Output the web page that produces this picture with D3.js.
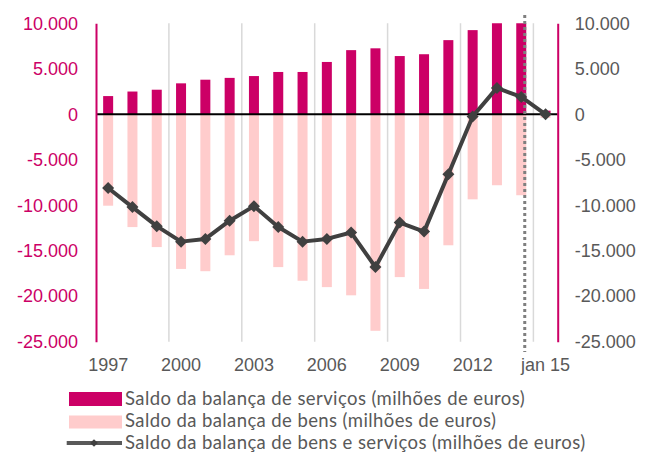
<!DOCTYPE html>
<html>
<head>
<meta charset="utf-8">
<script src="https://cdn.jsdelivr.net/npm/d3@7"></script>
<style>
  body { margin: 0; background: #fff; }
  svg { display: block; font-family: Lato, "Open Sans", sans-serif; }
</style>
</head>
<body>
<div id="chart"></div>
<script>
// categories (years + last month)
const categories = ["1997","1998","1999","2000","2001","2002","2003","2004","2005","2006",
  "2007","2008","2009","2010","2011","2012","2013","2014","jan 15"];
const xTickLabels = ["1997","2000","2003","2006","2009","2012","jan 15"];

// values in millions of euros
const servicos = [2000,2500,2700,3400,3800,4000,4200,4650,4650,5750,
  7050,7250,6400,6600,8150,9250,10700,10800,400];
const bens = [-10050,-12400,-14600,-17000,-17250,-15500,-13950,-16800,-18300,-19000,
  -19900,-23800,-17900,-19200,-14400,-9350,-7800,-8900,-400];
const bensServicos = [-8100,-10200,-12300,-14000,-13700,-11700,-10100,-12400,-14000,-13700,
  -13000,-16800,-11900,-12900,-6600,-250,2900,1900,0];

const yTicks = [-25000,-20000,-15000,-10000,-5000,0,5000,10000];
const legendLabels = [
  "Saldo da balança de serviços (milhões de euros)",
  "Saldo da balança de bens (milhões de euros)",
  "Saldo da balança de bens e serviços (milhões de euros)"
];

const W = 646, H = 453;
const m = { left: 96, right: 557.7, top: 23.3, bottom: 341.7 };
const magenta = "#cc0066", pink = "#ffcccc", lineCol = "#404040", textCol = "#595959";

const svg = d3.select("#chart").append("svg").attr("width", W).attr("height", H);

const x = d3.scaleBand().domain(categories).range([m.left, m.right]).padding(0);
const y = d3.scaleLinear().domain([-25000, 10000]).range([m.bottom, m.top]);

const pt = d3.formatLocale({ decimal: ",", thousands: ".", grouping: [3], currency: ["", "€"], minus: "-" });
const fmt = pt.format(",.0f");

svg.append("defs").append("clipPath").attr("id", "plot")
  .append("rect").attr("x", m.left).attr("y", m.top)
  .attr("width", m.right - m.left).attr("height", m.bottom - m.top);

// gridlines every 3 categories
svg.append("g").selectAll("line")
  .data(categories.filter((d, i) => i > 0 && i % 3 === 0))
  .join("line")
  .attr("x1", d => x(d)).attr("x2", d => x(d))
  .attr("y1", m.top).attr("y2", m.bottom)
  .attr("stroke", "#d9d9d9").attr("stroke-width", 1.5);

const barW = 10;
const bars = svg.append("g").attr("clip-path", "url(#plot)");
bars.selectAll(".serv").data(servicos).join("rect")
  .attr("class", "serv")
  .attr("x", (d, i) => x(categories[i]) + (x.bandwidth() - barW) / 2)
  .attr("width", barW)
  .attr("y", d => y(Math.max(0, d)))
  .attr("height", d => Math.abs(y(d) - y(0)))
  .attr("fill", magenta);
bars.selectAll(".bens").data(bens).join("rect")
  .attr("class", "bens")
  .attr("x", (d, i) => x(categories[i]) + (x.bandwidth() - barW) / 2)
  .attr("width", barW)
  .attr("y", d => y(Math.max(0, d)))
  .attr("height", d => Math.abs(y(d) - y(0)))
  .attr("fill", pink);

// zero line
svg.append("line").attr("x1", m.left).attr("x2", m.right)
  .attr("y1", y(0)).attr("y2", y(0))
  .attr("stroke", "#000").attr("stroke-width", 2);

// dotted marker line
const dotX = x("2014") + x.bandwidth() / 2 + 3.5;
svg.append("line").attr("x1", dotX).attr("x2", dotX)
  .attr("y1", 15).attr("y2", 352)
  .attr("stroke", "#7f7f7f").attr("stroke-width", 3).attr("stroke-dasharray", "3,3");

// axes
const yl = svg.append("g").attr("transform", `translate(${m.left},0)`)
  .call(d3.axisLeft(y).tickValues(yTicks).tickSize(0).tickPadding(18).tickFormat(fmt));
yl.select(".domain").attr("stroke", magenta).attr("stroke-width", 2);
yl.selectAll("text").attr("fill", magenta).style("font-size", "18px");

const yr = svg.append("g").attr("transform", `translate(${m.right},0)`)
  .call(d3.axisRight(y).tickValues(yTicks).tickSize(0).tickPadding(17).tickFormat(fmt));
yr.select(".domain").attr("stroke", magenta).attr("stroke-width", 2);
yr.selectAll("text").attr("fill", textCol).style("font-size", "18px");

const xa = svg.append("g").attr("transform", `translate(0,${m.bottom})`)
  .call(d3.axisBottom(x).tickValues(xTickLabels).tickSize(0).tickPadding(17));
xa.select(".domain").remove();
xa.selectAll("text").attr("fill", textCol).style("font-size", "18px");

// total line
const line = d3.line().x((d, i) => x(categories[i]) + x.bandwidth() / 2).y(d => y(d));
svg.append("path").datum(bensServicos)
  .attr("d", line).attr("fill", "none")
  .attr("stroke", lineCol).attr("stroke-width", 4).attr("stroke-linejoin", "round");
svg.append("g").selectAll("path").data(bensServicos).join("path")
  .attr("transform", (d, i) => `translate(${x(categories[i]) + x.bandwidth() / 2},${y(d)}) rotate(45)`)
  .attr("d", d3.symbol(d3.symbolSquare, 72))
  .attr("fill", lineCol);

// legend
const lg = svg.append("g");
const lgX = 69, lgW = 53, rowY = [398.5, 421, 442.5];
lg.append("rect").attr("x", lgX).attr("y", rowY[0] - 6.5).attr("width", lgW).attr("height", 14).attr("fill", magenta);
lg.append("rect").attr("x", lgX).attr("y", rowY[1] - 5.5).attr("width", lgW).attr("height", 13).attr("fill", pink);
lg.append("line").attr("x1", 66.7).attr("x2", 122).attr("y1", rowY[2] + 0.5).attr("y2", rowY[2] + 0.5)
  .attr("stroke", textCol).attr("stroke-width", 4);
lg.append("path").attr("transform", `translate(94,${rowY[2] + 0.5}) rotate(45)`)
  .attr("d", d3.symbol(d3.symbolSquare, 30)).attr("fill", lineCol);
lg.selectAll("text").data(legendLabels).join("text")
  .attr("x", 125).attr("y", (d, i) => rowY[i])
  .attr("dy", "0.35em")
  .attr("fill", textCol).style("font-size", "18.5px").style("letter-spacing", "0.4px")
  .text(d => d);
</script>
</body>
</html>
